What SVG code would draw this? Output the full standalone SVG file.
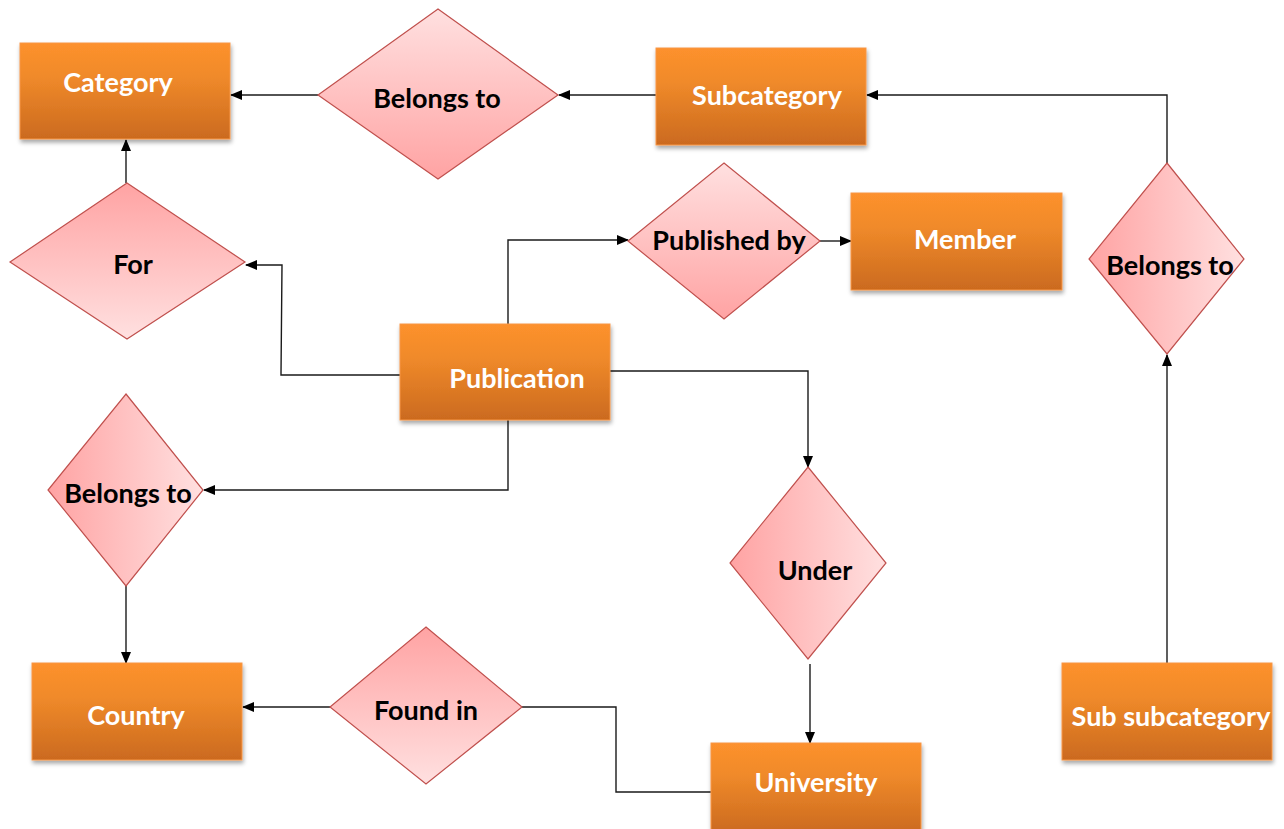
<svg xmlns="http://www.w3.org/2000/svg" width="1284" height="829" viewBox="0 0 1284 829">
<style>
.ent{stroke:#F79646;stroke-width:1;filter:url(#sh)}
.rel{stroke:#C0504D;stroke-width:1.2}
.et{font-family:Lato,"Open Sans",sans-serif;font-weight:bold;font-size:27px;fill:#fff;text-anchor:middle}
.rt{font-family:Lato,"Open Sans",sans-serif;font-weight:bold;font-size:27px;fill:#000;text-anchor:middle}
.c{fill:none;stroke:#1a1a1a;stroke-width:1.4}
</style>
<defs>
<linearGradient id="og" x1="0" y1="0" x2="0" y2="1"><stop offset="0" stop-color="#FD912D"/><stop offset="0.35" stop-color="#F08A2A"/><stop offset="1" stop-color="#CB6A1F"/></linearGradient>
<linearGradient id="pv" x1="0" y1="0" x2="0" y2="1"><stop offset="0" stop-color="#FFE0E0"/><stop offset="1" stop-color="#FFA3A3"/></linearGradient>
<linearGradient id="pvr" x1="0" y1="0" x2="0" y2="1"><stop offset="0" stop-color="#FFA3A3"/><stop offset="1" stop-color="#FFE0E0"/></linearGradient>
<linearGradient id="ph" x1="0" y1="0" x2="1" y2="0"><stop offset="0" stop-color="#FFA3A3"/><stop offset="1" stop-color="#FFE0E0"/></linearGradient>
<filter id="sh" x="-10%" y="-10%" width="125%" height="130%"><feDropShadow dx="1" dy="3" stdDeviation="2" flood-color="#000" flood-opacity="0.35"/></filter>
<marker id="ar" markerWidth="12" markerHeight="10" refX="11" refY="5" orient="auto" markerUnits="userSpaceOnUse"><path d="M0,0 L12,5 L0,10 Z" fill="#000"/></marker>
</defs>
<g id="connectors">
<path class="c" d="M656,95 L559,95" marker-end="url(#ar)"/>
<path class="c" d="M318,95 L231,95" marker-end="url(#ar)"/>
<path class="c" d="M126,183 L126,140" marker-end="url(#ar)"/>
<path class="c" d="M400,375 L281,375 L282,265 L246,265" marker-end="url(#ar)"/>
<path class="c" d="M508,324 L508,240 L628,240" marker-end="url(#ar)"/>
<path class="c" d="M820,241 L851,241" marker-end="url(#ar)"/>
<path class="c" d="M610,371 L808,371 L808,467" marker-end="url(#ar)"/>
<path class="c" d="M810,664 L810,743" marker-end="url(#ar)"/>
<path class="c" d="M508,420 L508,490 L204,490" marker-end="url(#ar)"/>
<path class="c" d="M126,586 L126,663" marker-end="url(#ar)"/>
<path class="c" d="M711,792 L616,792 L616,707 L522,707"/>
<path class="c" d="M330,707 L243,707" marker-end="url(#ar)"/>
<path class="c" d="M1167,663 L1167,355" marker-end="url(#ar)"/>
<path class="c" d="M1167,163 L1167,95 L867,95" marker-end="url(#ar)"/>
</g>
<g id="category"><rect class="ent" x="20" y="43" width="210" height="96" fill="url(#og)"/><text class="et" x="118" y="92">Category</text></g>
<g id="subcategory"><rect class="ent" x="656" y="48" width="210" height="97" fill="url(#og)"/><text class="et" x="767" y="105">Subcategory</text></g>
<g id="member"><rect class="ent" x="851" y="193" width="211" height="97" fill="url(#og)"/><text class="et" x="965" y="249">Member</text></g>
<g id="publication"><rect class="ent" x="400" y="324" width="210" height="96" fill="url(#og)"/><text class="et" x="517" y="388">Publication</text></g>
<g id="country"><rect class="ent" x="32" y="663" width="210" height="97" fill="url(#og)"/><text class="et" x="136" y="725">Country</text></g>
<g id="university"><rect class="ent" x="711" y="743" width="210" height="90" fill="url(#og)"/><text class="et" x="816" y="792">University</text></g>
<g id="subsubcategory"><rect class="ent" x="1062" y="663" width="210" height="97" fill="url(#og)"/><text class="et" x="1171" y="726">Sub subcategory</text></g>
<g id="rel-belongs-top"><polygon class="rel" points="438,9 558,95 438,179 318,95" fill="url(#pv)"/><text class="rt" x="437" y="108">Belongs to</text></g>
<g id="rel-for"><polygon class="rel" points="127,183 245,262 127,339 10,262" fill="url(#pvr)"/><text class="rt" x="133" y="274">For</text></g>
<g id="rel-published"><polygon class="rel" points="724,163 820,241 724,319 628,241" fill="url(#pv)"/><text class="rt" x="729" y="250">Published by</text></g>
<g id="rel-belongs-right"><polygon class="rel" points="1167,163 1244,259 1167,354 1089,259" fill="url(#ph)"/><text class="rt" x="1170" y="275">Belongs to</text></g>
<g id="rel-under"><polygon class="rel" points="808,467 886,563 808,659 730,563" fill="url(#ph)"/><text class="rt" x="815" y="580">Under</text></g>
<g id="rel-belongs-left"><polygon class="rel" points="126,394 203,490 126,586 48,490" fill="url(#ph)"/><text class="rt" x="128" y="503">Belongs to</text></g>
<g id="rel-found"><polygon class="rel" points="426,627 522,707 426,784 330,707" fill="url(#pvr)"/><text class="rt" x="426" y="720">Found in</text></g>
</svg>
